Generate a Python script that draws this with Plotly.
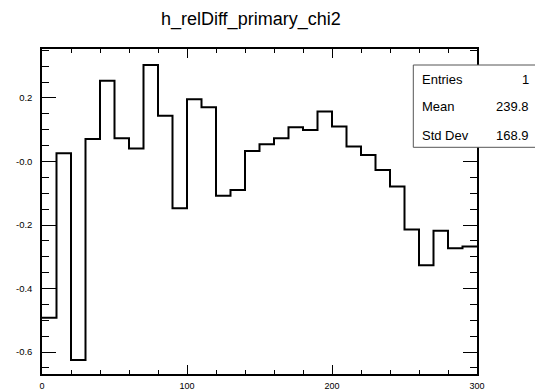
import plotly.graph_objects as go

# ---- data ----
title_text = "h_relDiff_primary_chi2"
x_min, x_max, bin_width = 0, 300, 10
values = [-0.492, 0.026, -0.625, 0.071, 0.254, 0.073, 0.041, 0.304, 0.144, -0.147,
          0.196, 0.171, -0.108, -0.090, 0.033, 0.054, 0.073, 0.108, 0.099, 0.157,
          0.110, 0.047, 0.020, -0.027, -0.079, -0.214, -0.327, -0.218, -0.273, -0.268]
y_tickvals = [0.2, 0.0, -0.2, -0.4, -0.6]
y_ticktext = ["0.2", "-0.0", "-0.2", "-0.4", "-0.6"]
x_tickvals = [0, 100, 200, 300]
stats_labels = ["Entries", "Mean", "Std Dev"]
stats_values = ["1", "239.8", "168.9"]

# ---- layout geometry ----
W, H = 535, 392
ML, MR, MT, MB = 42, 58, 49, 18
PW, PH = W - ML - MR, H - MT - MB

def px_x(x):
    return (x - ML) / PW

def px_y(y):
    return (H - MB - y) / PH

edges = [x_min + i * bin_width for i in range(len(values) + 1)]
ys = values + [values[-1]]

fig = go.Figure()
fig.add_trace(go.Scatter(x=edges, y=ys, mode="lines", line=dict(color="black", width=2, shape="hv"),
                         showlegend=False, hoverinfo="skip"))

font = "Liberation Sans, Arial, Helvetica, sans-serif"

fig.update_layout(
    width=W, height=H,
    margin=dict(l=ML, r=MR, t=MT, b=MB, pad=0, autoexpand=False),
    paper_bgcolor="white", plot_bgcolor="white",
    title=dict(text=title_text, x=250.8 / W, xref="container", xanchor="center",
               y=1 - 18.3 / H, yref="container", yanchor="middle",
               font=dict(family=font, size=18, color="black")),
    xaxis=dict(range=[x_min, x_max], showgrid=False, zeroline=False, automargin=False,
               showline=True, linecolor="black", linewidth=1.5, mirror="allticks",
               ticks="inside", ticklen=9, tickwidth=1.3, tickcolor="black",
               tickmode="array", tickvals=x_tickvals,
               ticklabelstandoff=2,
               minor=dict(dtick=20, tick0=0, ticks="inside", ticklen=4, tickwidth=1.3, tickcolor="black"),
               tickfont=dict(family=font, size=9, color="black")),
    yaxis=dict(range=[-0.669, 0.354], showgrid=False, zeroline=False, automargin=False,
               showline=True, linecolor="black", linewidth=1.5, mirror="allticks",
               ticks="inside", ticklen=14, tickwidth=1.3, tickcolor="black",
               tickmode="array", tickvals=y_tickvals, ticktext=y_ticktext,
               ticklabelstandoff=6,
               minor=dict(dtick=0.05, tick0=0, ticks="inside", ticklen=7, tickwidth=1.3, tickcolor="black"),
               tickfont=dict(family=font, size=9.5, color="black")),
)

# stats box
fig.add_shape(type="rect", xref="paper", yref="paper",
              x0=px_x(413.3), x1=px_x(536), y0=px_y(147.3), y1=px_y(65),
              line=dict(color="#555555", width=1), fillcolor="white", layer="above")
row_y = [79.3, 106.7, 135.0]
for lab, val, yy in zip(stats_labels, stats_values, row_y):
    fig.add_annotation(x=px_x(420), y=px_y(yy), xref="paper", yref="paper", text=lab,
                       showarrow=False, xanchor="left", yanchor="middle",
                       font=dict(family=font, size=13, color="black"))
    fig.add_annotation(x=px_x(530.5), y=px_y(yy), xref="paper", yref="paper", text=val,
                       showarrow=False, xanchor="right", yanchor="middle",
                       font=dict(family=font, size=13, color="black"))

fig.write_html("out.html")
